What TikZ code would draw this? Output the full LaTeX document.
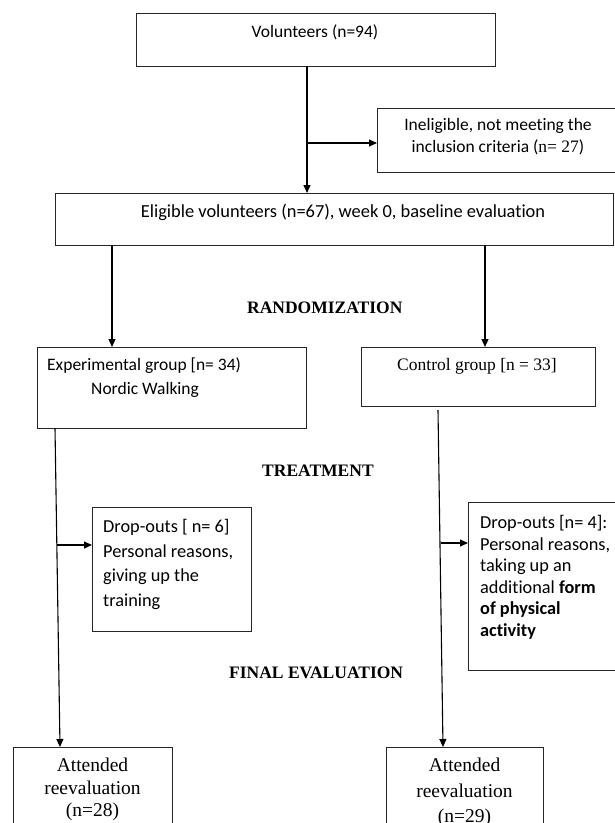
\documentclass[tikz,border=0pt]{standalone}
\usepackage{fontspec}
\setmainfont{Carlito}[Ligatures=NoCommon]
\newfontfamily\tnr{Liberation Serif}
\usetikzlibrary{arrows.meta,calc}
\tikzset{
  box/.style={draw=black!85, line width=1pt, inner sep=0pt, outer sep=0pt, anchor=north west},
  txt/.style={inner sep=0pt, font=\fontsize{17.5}{24.5}\selectfont},
  head/.style={inner sep=0pt, anchor=base west, font=\tnr\bfseries\fontsize{17.5}{20}\selectfont},
  arr/.style={draw=black, line width=1.1pt, -{Triangle[length=8pt,width=7pt]}},
  ln/.style={draw=black, line width=1.1pt}
}
\begin{document}
\begin{tikzpicture}[x=1pt,y=-1pt]
\useasboundingbox (0,0) rectangle (615,823);
% boxes
\node[box, minimum width=359pt, minimum height=53pt] (vol) at (136,13) {};
\node[box, minimum width=238pt, minimum height=64pt] (inel) at (377,108) {};
\node[box, minimum width=558pt, minimum height=52pt] (eli) at (55,193) {};
\node[box, minimum width=269pt, minimum height=81pt] (exp) at (37,347) {};
\node[box, minimum width=234pt, minimum height=59pt] (ctrl) at (361,347) {};
\node[box, minimum width=159pt, minimum height=124pt] (dropL) at (92,507) {};
\node[box, minimum width=148pt, minimum height=168pt] (dropR) at (468,502) {};
\node[box, minimum width=159pt, minimum height=90pt] (att1) at (13,747) {};
\node[box, minimum width=157pt, minimum height=90pt] (att2) at (386,747) {};
% texts
\node[txt, anchor=base] (volT) at (315,37) {Volunteers (n=94)};
\node[txt, anchor=north, align=center, font=\fontsize{17.5}{22}\selectfont] (inelT) at (498,118) {Ineligible, not meeting the\\inclusion criteria ({\tnr n= 27})};
\node[txt, anchor=base, font=\fontsize{18.4}{22}\selectfont] (eliT) at (343,217) {Eligible volunteers (n=67), week 0, baseline evaluation};
\node[txt, anchor=north west, align=left] (expT) at (47,357) {Experimental group [n= 34)\\\hspace*{44pt}Nordic Walking};
\node[txt, anchor=base, font=\tnr\fontsize{17.5}{20}\selectfont] (ctrlT) at (477,370) {Control group [n = 33]};
\node[txt, anchor=north west, align=left, font=\fontsize{18.3}{24.7}\selectfont] (dropLT) at (103,519) {Drop-outs [ n= 6]\\Personal reasons,\\giving up the\\training};
\node[txt, anchor=north west, align=left, font=\fontsize{18.3}{21.5}\selectfont] (dropRT) at (480,515.5) {Drop-outs [n= 4]:\\Personal reasons,\\taking up an\\additional \textbf{form}\\\textbf{of physical}\\\textbf{activity}};
\node[txt, anchor=north, align=center, font=\tnr\fontsize{19.5}{22.5}\selectfont] (att1T) at (92.5,758) {Attended\\reevaluation\\(n=28)};
\node[txt, anchor=north, align=center, font=\tnr\fontsize{19.5}{25.5}\selectfont] (att2T) at (464.5,758) {Attended\\reevaluation\\(n=29)};
\node[head] (rand) at (247,313) {RANDOMIZATION};
\node[head] (treat) at (262,476) {TREATMENT};
\node[head] (final) at (229,678) {FINAL EVALUATION};
% connectors
\draw[arr] ([xshift=-8.5pt]vol.south) -- ([xshift=-8.5pt]vol.south |- eli.north);
\draw[arr] ([xshift=-8.5pt,yshift=-3pt]vol.south |- inel.west) -- ([yshift=-3pt]inel.west);
\draw[arr] ([xshift=-59.5pt]exp.north |- eli.south) -- ([xshift=-59.5pt]exp.north);
\draw[arr] ([xshift=7pt]ctrl.north |- eli.south) -- ([xshift=7pt]ctrl.north);
\coordinate (l1) at ([xshift=18pt]exp.south west);
\coordinate (l2) at ([xshift=47pt]att1.north west);
\draw[arr] (l1) -- (l2);
\coordinate (bL) at ([xshift=-35pt,yshift=24pt]dropL.west);
\draw[arr] (bL) -- ([yshift=24pt]dropL.west);
\coordinate (r1) at ([xshift=-40pt,yshift=-4pt]ctrl.south);
\coordinate (r2) at ([xshift=57pt]att2.north west);
\draw[arr] (r1) -- (r2);
\coordinate (bR) at ([xshift=-27pt,yshift=43pt]dropR.west);
\draw[arr] (bR) -- ([yshift=43pt]dropR.west);
\end{tikzpicture}
\end{document}
